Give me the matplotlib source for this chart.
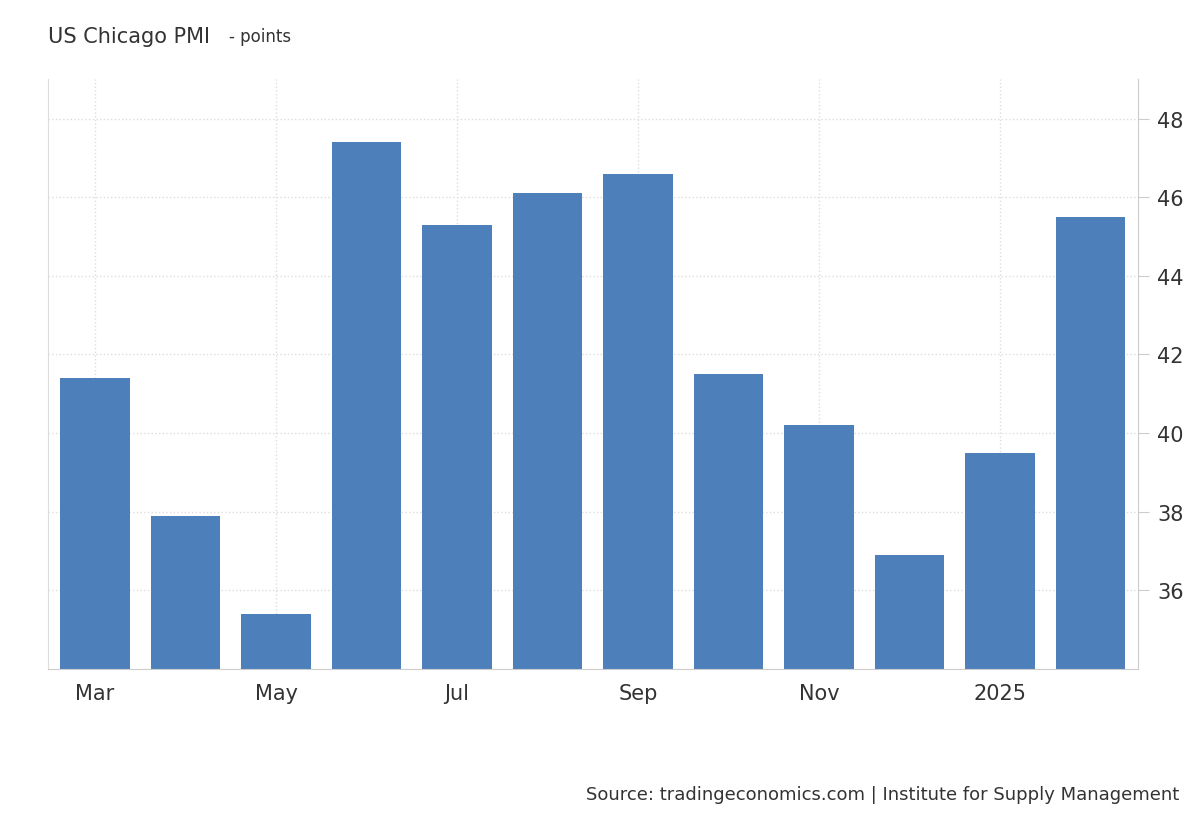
import matplotlib.pyplot as plt

months = ["Mar", "Apr", "May", "Jun", "Jul", "Aug", "Sep", "Oct", "Nov", "Dec", "2025", "Feb"]
values = [41.4, 37.9, 35.4, 47.4, 45.3, 46.1, 46.6, 41.5, 40.2, 36.9, 39.5, 45.5]
tick_idx = [0, 2, 4, 6, 8, 10]
y_ticks = [36, 38, 40, 42, 44, 46, 48]

fig = plt.figure(figsize=(12, 8.2), dpi=100)
ax = fig.add_axes([0.04, 0.183, 0.908, 0.719])

x = list(range(len(values)))
ax.bar(x, values, width=0.77, color="#4d7fba", zorder=2)

ax.set_xlim(-0.52, len(values) - 0.48)
ax.set_ylim(34, 49)
ax.set_xticks(tick_idx)
ax.set_xticklabels([months[i] for i in tick_idx])
ax.set_yticks(y_ticks)
ax.yaxis.tick_right()
ax.tick_params(axis="both", labelsize=15, colors="#333333", length=0, pad=10)
ax.tick_params(axis="y", length=8, color="#cccccc", pad=6)

ax.grid(True, color="#dddddd", linestyle=":", linewidth=1, zorder=0)
for side in ["top"]:
    ax.spines[side].set_visible(False)
ax.spines["left"].set_color("#dddddd")
ax.spines["right"].set_color("#cccccc")
ax.spines["bottom"].set_color("#cccccc")

fig.text(0.04, 0.955, "US Chicago PMI", fontsize=15, color="#333333", va="center")
fig.text(0.191, 0.955, "- points", fontsize=12, color="#333333", va="center")
fig.text(0.983, 0.03, "Source: tradingeconomics.com | Institute for Supply Management",
         fontsize=13, color="#333333", ha="right", va="center")

fig.savefig("out.png", dpi=100)
